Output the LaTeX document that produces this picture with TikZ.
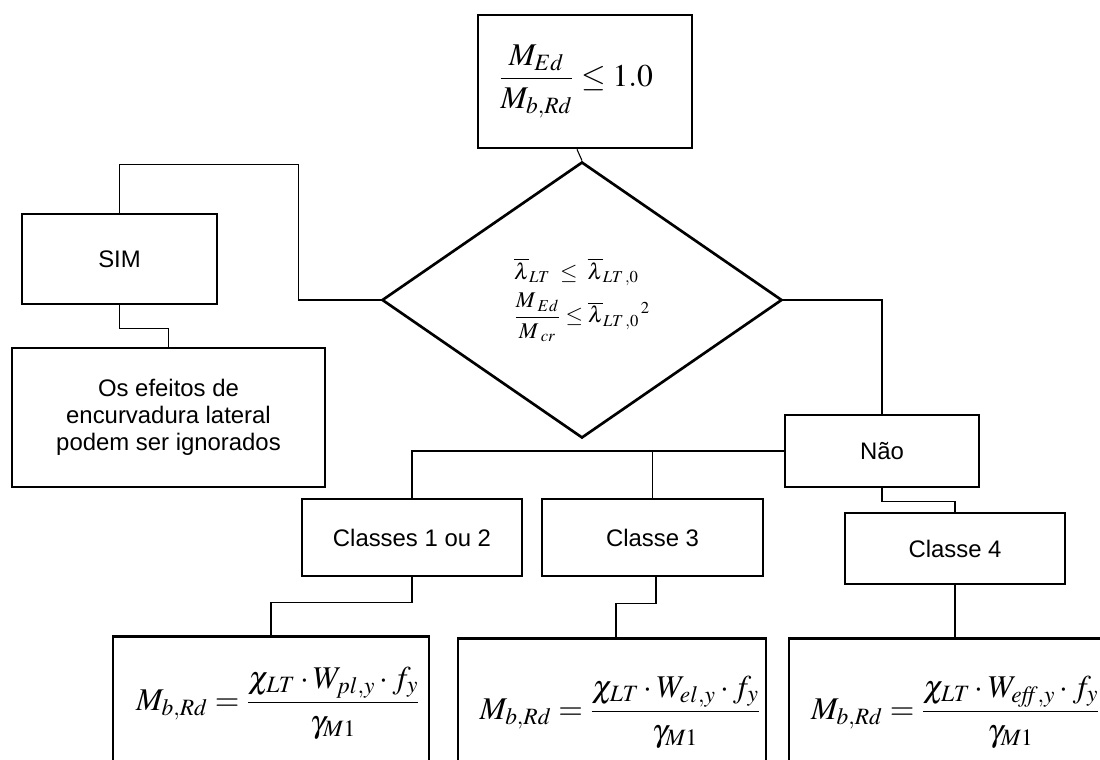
\documentclass[tikz,border=0pt]{standalone}
\usepackage{mathptmx}
\usepackage[no-math]{fontspec}
\setmainfont{Liberation Sans}
\usetikzlibrary{shapes.geometric,calc}
\newcommand{\boxfont}{\fontsize{17}{19}\selectfont}
\newcommand{\fmfont}{\fontsize{22.5}{27}\selectfont}
\newcommand{\dmfont}{\fontsize{16}{19}\selectfont}
\begin{document}
\begin{tikzpicture}[x=0.025cm,y=-0.025cm,
  box/.style={draw, line width=1.9pt, inner sep=0pt, align=center, font=\boxfont},
  fbox/.style={draw, line width=1.9pt, inner sep=0pt, anchor=north, font=\fmfont},
  conn/.style={line width=0.75pt}]
\useasboundingbox (0,0) rectangle (1100,760);
\clip (0,0) rectangle (1100,760);

% boxes
\node[box, minimum width=5.35cm, minimum height=3.325cm, font=\fmfont] (top) at (585,81.5)
  {$\displaystyle\frac{M_{Ed}}{M_{b,Rd}}\leq 1.0$\hspace*{0.45cm}};

\node[draw, line width=1.9pt, shape=diamond, inner sep=0pt,
      minimum width=10cm, minimum height=6.9cm, align=left, font=\dmfont] (dia) at (582,300)
  {$\overline{\lambda}_{LT}\;\leq\;\overline{\lambda}_{LT\,,0}$\\[4pt]
   $\displaystyle\frac{M_{\;Ed}}{M_{\;cr}}\leq\overline{\lambda}_{LT\,,0}{}^{\,2}$};

\node[box, minimum width=4.875cm, minimum height=2.25cm] (sim) at (119.5,259) {SIM};
\node[box, minimum width=7.825cm, minimum height=3.475cm] (eff) at (168.5,417.5)
  {Os efeitos de\\encurvadura lateral\\podem ser ignorados};
\node[box, minimum width=4.85cm, minimum height=1.8cm] (nao) at (882,451) {Não};
\node[box, minimum width=5.5cm, minimum height=1.925cm] (c12) at (412,537.5) {Classes 1 ou 2};
\node[box, minimum width=5.525cm, minimum height=1.925cm] (c3) at (652.5,537.5) {Classe 3};
\node[box, minimum width=5.5cm, minimum height=1.775cm] (c4) at (955,548.5) {Classe 4};

\node[fbox, minimum width=7.9cm, text height=1.85cm, text depth=2.275cm] (f1) at (271,635)
  {\hspace*{0.35cm}$\displaystyle M_{b,Rd}=\frac{\chi_{LT}\cdot W_{pl,y}\cdot f_{y}}{\gamma_{M1}}$};
\node[fbox, minimum width=7.7cm, text height=2.025cm, text depth=2.05cm] (f2) at (612,637)
  {\hspace*{0.4cm}$\displaystyle M_{b,Rd}=\frac{\chi_{LT}\cdot W_{el,y}\cdot f_{y}}{\gamma_{M1}}$};
\node[fbox, minimum width=8.025cm, text height=2.025cm, text depth=2.05cm] (f3) at (949.5,637)
  {\hspace*{0.3cm}$\displaystyle M_{b,Rd}=\frac{\chi_{LT}\cdot W_{\mathit{eff},y}\cdot f_{y}}{\gamma_{M1}}$};

% connectors
\draw[conn] ($(top.south)+(-8,0)$) -- (dia.north);
\draw[conn] (dia.west) -- ++(-82,0) |- ($(sim.north)+(0,-48)$) -- (sim.north);
\draw[conn] (sim.south) -- ++(0,23) -| (eff.north);
\draw[conn] (dia.east) -| (nao.north);
\draw[conn] (nao.west) -| (c12.north);
\draw[conn] (c3.north) -- (c3.north |- nao.west);
\draw[conn] (nao.south) -- ++(0,13) -| (c4.north);
\draw[conn] (c4.south) -- (c4.south |- f3.north);
\draw[conn] (c12.south) -- ++(0,25) -| (f1.north);
\draw[conn] ($(c3.south)+(3.5,0)$) -- ++(0,26) -| ($(f2.north)+(4,0)$);
\end{tikzpicture}
\end{document}
